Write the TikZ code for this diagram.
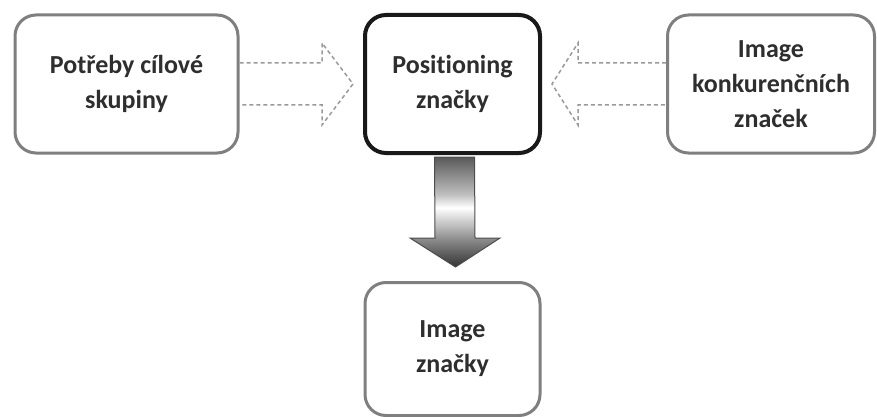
\documentclass[tikz,border=0pt]{standalone}
\usepackage{fontspec}
\setmainfont{Carlito}[Ligatures={NoCommon,NoContextual}]
\usetikzlibrary{calc}
\definecolor{txt}{HTML}{2E2E2E}
\definecolor{graybord}{HTML}{7F7F7F}
\definecolor{dashgray}{HTML}{9A9A9A}
\pgfdeclareverticalshading{downshade}{100bp}{
  color(0bp)=(black!80); color(25bp)=(black!80); color(37.7bp)=(black!45);
  color(52bp)=(white); color(58bp)=(black!25); color(75bp)=(black!65); color(100bp)=(black!65)}
\tikzset{
  box/.style={draw=graybord, line width=3pt, rounded corners=21pt, fill=white,
    text=txt, align=center, font=\fontsize{26}{35}\selectfont\bfseries},
  mainbox/.style={box, draw=black!90, line width=4pt},
  dasharrow/.style={draw=dashgray, line width=1.5pt, dash pattern=on 4pt off 3pt},
  bigarrow/.style={draw=black!70, line width=1pt, shading=downshade}
}
\begin{document}
\begin{tikzpicture}[x=1pt,y=-1pt]
\useasboundingbox (0,0) rectangle (877,417);
\node[box, minimum width=223pt, minimum height=138pt] (a) at (126.5,84) {Potřeby cílové\\skupiny};
\node[mainbox, minimum width=175pt, minimum height=138pt] (b) at (452.5,84) {Positioning\\značky};
\node[box, minimum width=207pt, minimum height=138pt] (c) at (771,84) {Image\\konkurenčních\\značek};
\node[box, minimum width=175pt, minimum height=133pt] (d) at (452.5,349) {Image\\značky};
\draw[dasharrow] ([yshift=21pt]a.east) -- (322,63) -- (322,43) -- (353,84) -- (322,125) -- (322,105) -- ([yshift=-21pt]a.east);
\draw[dasharrow] ([yshift=21pt]c.west) -- (578,63) -- (578,43) -- (552,84) -- (578,125) -- (578,105) -- ([yshift=-21pt]c.west);
\path[bigarrow] ([xshift=-18pt,yshift=-2pt]b.south) -- (435,238) -- (410,238) -- (455.5,267) -- (500,238) -- (475,238) -- ([xshift=22pt,yshift=-2pt]b.south) -- cycle;
\end{tikzpicture}
\end{document}
